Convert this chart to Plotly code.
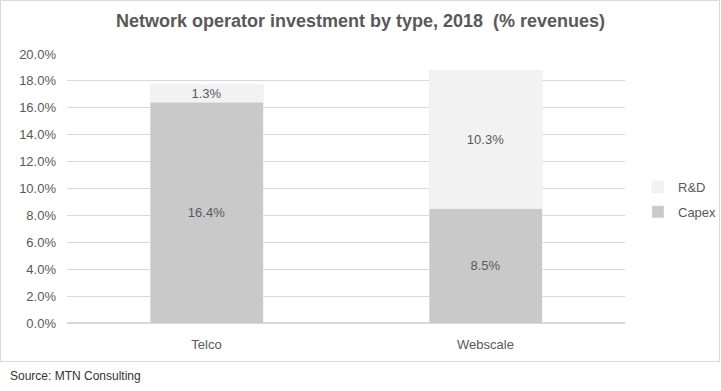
import plotly.graph_objects as go

categories = ["Telco", "Webscale"]
capex = [16.4, 8.5]
rnd = [1.3, 10.3]
tick_vals = [0, 2, 4, 6, 8, 10, 12, 14, 16, 18, 20]
tick_text = [f"{v:.1f}%" for v in tick_vals]

W, H = 721, 391
ml, mr, mt, mb = 67, 96, 54, 68
pw, ph = W - ml - mr, H - mt - mb

def px2x(px):
    return (px - ml) / pw

def py2y(py):
    return (H - mb - py) / ph

txt = "#595959"
sans = "Liberation Sans, Arial"

fig = go.Figure()
fig.add_trace(go.Bar(
    name="Capex", x=categories, y=capex, marker_color="#c9c9c9",
    legendgroup="capex", legendrank=2,
    text=[f"{v:.1f}%" for v in capex], textposition="inside",
    insidetextanchor="middle", textangle=0,
    textfont=dict(color=txt, size=13, family=sans),
))
fig.add_trace(go.Bar(
    name="R&D", x=categories, y=rnd, marker_color="#f2f2f2",
    legendgroup="rnd", legendrank=1,
    text=[f"{v:.1f}%" for v in rnd], textposition="inside",
    insidetextanchor="middle", textangle=0, constraintext="none",
    textfont=dict(color=txt, size=13, family=sans),
))

fig.update_layout(
    width=W, height=H,
    barmode="stack", bargap=0.595,
    margin=dict(l=ml, r=mr, t=mt, b=mb, autoexpand=False),
    paper_bgcolor="white", plot_bgcolor="white",
    font=dict(family=sans, color=txt, size=13),
    title=dict(text="<b>Network operator investment by type, 2018  (% revenues)</b>",
               x=0.5, xanchor="center", y=1 - 21 / H, yanchor="middle",
               font=dict(family=sans, size=18, color=txt)),
    legend=dict(x=px2x(638), y=py2y(172), xanchor="left", yanchor="top",
                traceorder="grouped", tracegroupgap=5,
                font=dict(size=13, color=txt),
                itemwidth=30, bgcolor="rgba(0,0,0,0)"),
    showlegend=True,
)
fig.update_yaxes(range=[0, 20], tickvals=tick_vals, ticktext=tick_text,
                 showgrid=True, gridcolor="#d9d9d9", gridwidth=1,
                 zeroline=True, zerolinecolor="#d9d9d9", showline=False,
                 ticks="", ticklabelstandoff=10, tickfont=dict(size=13, color=txt))
fig.update_xaxes(showline=False, ticks="", ticklabelstandoff=12,
                 tickfont=dict(size=13, color=txt))

fig.add_shape(type="rect", xref="paper", yref="paper",
              x0=px2x(0.5), x1=px2x(719.5), y0=py2y(361.5), y1=py2y(0.5),
              line=dict(color="#d9d9d9", width=1), fillcolor="rgba(0,0,0,0)", layer="below")
fig.add_annotation(text="Source: MTN Consulting", xref="paper", yref="paper",
                   x=px2x(8), y=py2y(376), xanchor="left", yanchor="middle",
                   showarrow=False, font=dict(family=sans, size=12, color="#333333"))

fig.write_html("out.html", config={"displayModeBar": False},
               post_script="document.body.style.margin='0';")
